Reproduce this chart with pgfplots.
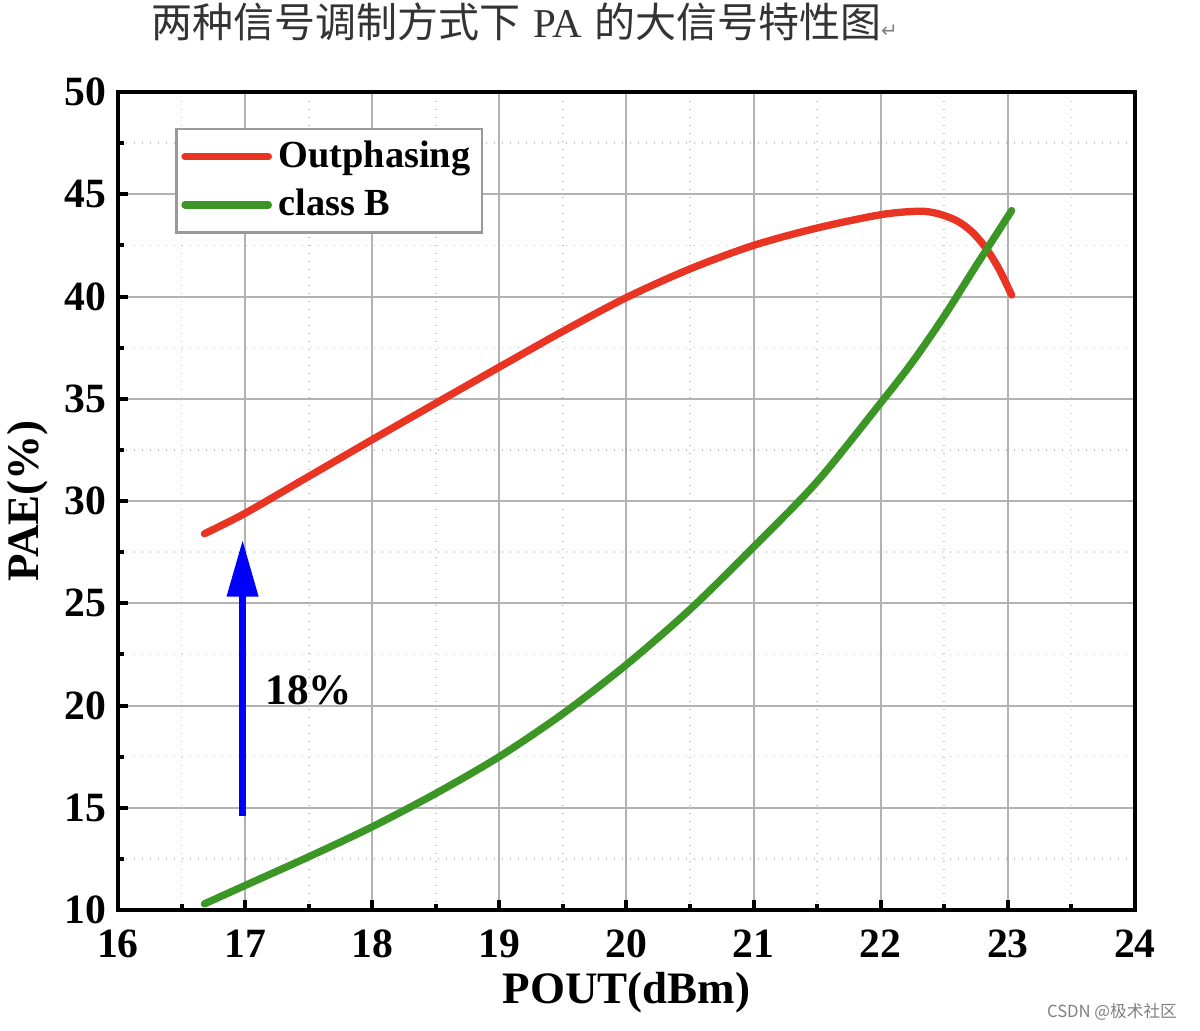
\documentclass[border=0pt]{standalone}
\usepackage{fontspec}
\setmainfont{Liberation Serif}
\newfontfamily\cjk{Noto Sans CJK SC}
\newfontfamily\dejavu{DejaVu Sans}
\usepackage{pgfplots}
\pgfplotsset{compat=1.18}
\usetikzlibrary{arrows.meta}
\definecolor{cred}{RGB}{233,51,35}
\definecolor{cgreen}{RGB}{60,150,38}
\begin{document}
\begin{tikzpicture}
\useasboundingbox (-35.4pt,-36pt) rectangle (324.6pt,273pt);
\begin{axis}[
  scale only axis, width=305.1pt, height=245.4pt,
  xmin=16, xmax=24, ymin=10, ymax=50,
  xtick={16,17,...,24}, ytick={10,15,...,50},
  minor x tick num=1, minor y tick num=1,
  grid=both,
  major grid style={gray!60, line width=0.6pt},
  minor grid style={gray!45, dotted, line width=0.5pt},
  axis line style={line width=1.3pt},
  tick align=inside, tick pos=left,
  major tick length=3pt, minor tick length=1.8pt,
  every tick/.style={black, line width=1.2pt},
  /pgf/number format/assume math mode=true,
  tick label style={font=\bfseries\fontsize{12.5}{13}\selectfont},
  x tick label style={yshift=-2.4pt},
  xlabel={POUT(dBm)}, ylabel={PAE(\%)},
  label style={font=\bfseries\fontsize{13.5}{14}\selectfont},
  x label style={at={(axis description cs:0.5,-0.1015)}, anchor=center},
  y label style={at={(axis description cs:-0.0885,0.5)}, anchor=center},
  legend style={at={(axis cs:16.45,48.24)}, anchor=north west, draw=gray!80, line width=0.7pt,
    font=\bfseries\fontsize{11.5}{13}\selectfont, inner sep=1.5pt, row sep=1pt},
  legend cell align=left,
  legend image code/.code={\draw[#1, line width=2.2pt, line cap=round] (0pt,0pt) -- (25pt,0pt);},
]
\addplot[cred, line width=2.2pt, smooth, line cap=round] coordinates {
 (16.68,28.4) (17.0,29.4) (17.5,31.2) (18.0,33.0) (18.5,34.78) (19.0,36.55)
 (19.5,38.3) (20.0,39.95) (20.5,41.35) (21.0,42.5) (21.5,43.35) (22.0,44.0)
 (22.3,44.17) (22.45,44.05) (22.6,43.7) (22.72,43.15) (22.83,42.35) (22.93,41.35) (23.03,40.07)
};
\addlegendentry{Outphasing}
\addplot[cgreen, line width=2.2pt, smooth, line cap=round] coordinates {
 (16.68,10.3) (17.0,11.2) (17.5,12.6) (18.0,14.07) (18.5,15.7) (19.0,17.5)
 (19.5,19.6) (20.0,22.0) (20.5,24.7) (21.0,27.75) (21.5,30.95) (22.0,34.8)
 (22.25,36.8) (22.5,39.05) (22.75,41.5) (23.03,44.2)
};
\addlegendentry{class B}
\draw[-{Triangle[width=9pt,length=17pt]}, blue, line width=2.1pt] (axis cs:16.98,14.6) -- (axis cs:16.98,28.1);
\node[font=\bfseries\fontsize{13}{14}\selectfont] at (axis cs:17.5,20.76) {18\%};
\end{axis}
\node[font=\cjk\fontsize{12.3}{13}\selectfont, text=black!80] at (122.1pt,266.4pt)
  {两种信号调制方式下\hspace{0.3em}{\rmfamily PA}\hspace{0.3em}的大信号特性图{\dejavu\fontsize{6}{6}\selectfont\color{gray}↵}};
\node[font=\cjk\fontsize{5}{6}\selectfont, text=gray] at (298.2pt,-30.6pt) {CSDN @极术社区};
\end{tikzpicture}
\end{document}
